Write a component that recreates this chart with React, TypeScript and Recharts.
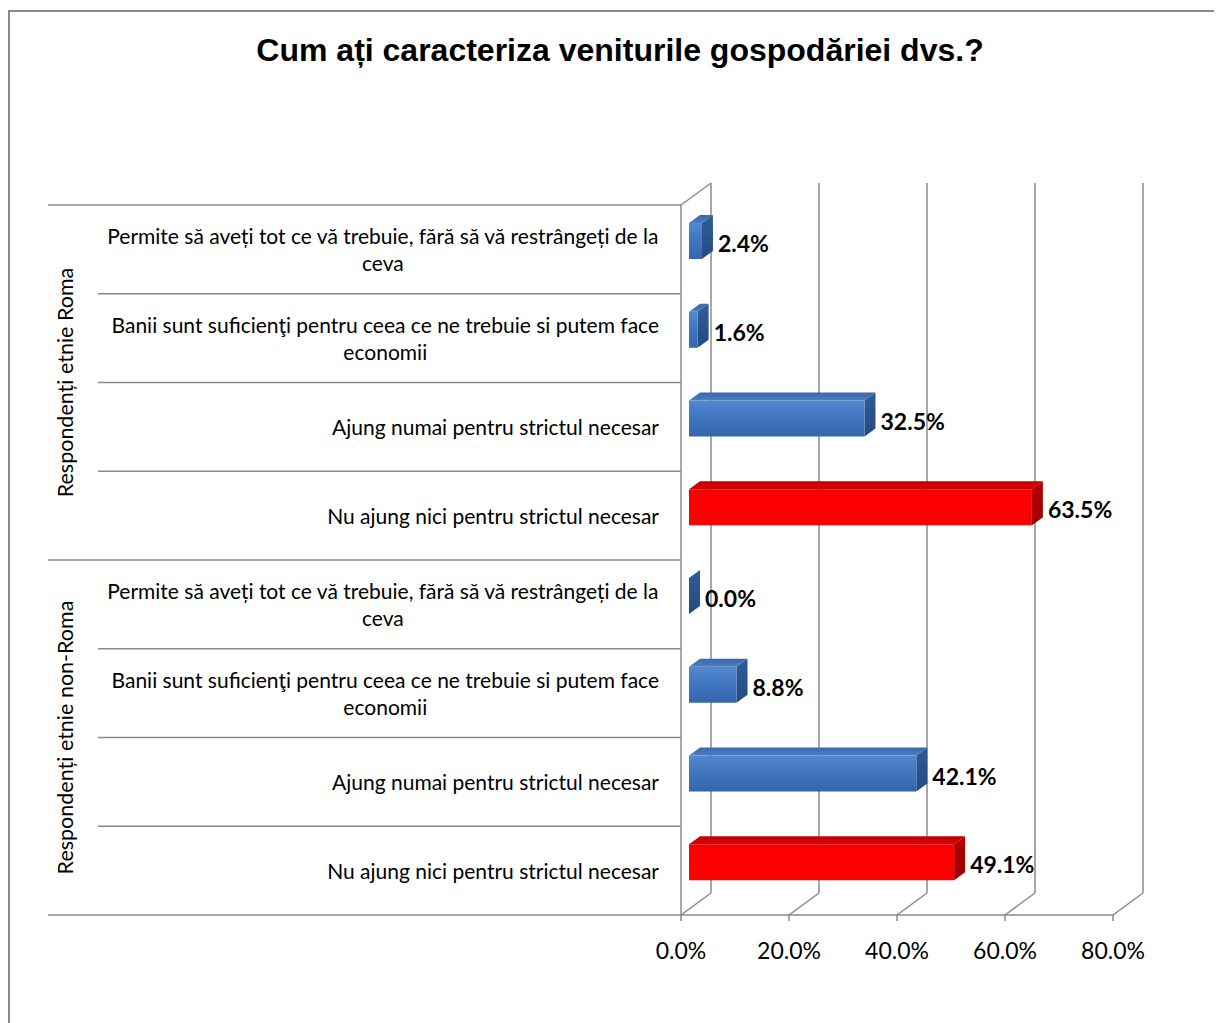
import React from "react";
import {
  BarChart,
  Bar,
  XAxis,
  YAxis,
  CartesianGrid,
  LabelList,
  Cell,
} from "recharts";

// answer options (top to bottom inside each group)
const categories = [
  "Permite să aveți tot ce vă trebuie, fără să vă restrângeți de la ceva",
  "Banii sunt suficienţi pentru ceea ce ne trebuie si putem face economii",
  "Ajung numai pentru strictul necesar",
  "Nu ajung nici pentru strictul necesar",
];
const groups = ["Respondenți etnie Roma", "Respondenți etnie non-Roma"];
const romaValues = [2.4, 1.6, 32.5, 63.5];
const nonRomaValues = [0.0, 8.8, 42.1, 49.1];
const xTicks = [0, 20, 40, 60, 80];

const data = [romaValues, nonRomaValues].flatMap((vals, g) =>
  vals.map((v, i) => ({
    key: `${g}-${i}`,
    label: categories[i],
    group: groups[g],
    value: v,
    red: i === 3,
  }))
);

// layout
const W = 1212;
const H = 1011;
const PLOT_LEFT = 671;
const PLOT_TOP = 193;
const PLOT_BOTTOM = 903;
const PLOT_RIGHT = 1103;
const BAND = (PLOT_BOTTOM - PLOT_TOP) / data.length;
const DEPTH_X = 30; // back wall offset
const DEPTH_Y = -22;
const BAR_X = 8; // bar front face offset from floor front
const BAR_Y = -8;
const BAR_DX = 11; // bar depth
const BAR_DY = -8;
const GRID = "#8a8a8a";
const FONT = "Lato, 'Open Sans', sans-serif";
const LABEL_SIZE = 21;

let ctx: CanvasRenderingContext2D | null = null;
const measure = (s: string, font: string) => {
  if (!ctx) ctx = document.createElement("canvas").getContext("2d");
  if (!ctx) return s.length * 9;
  ctx.font = font;
  return ctx.measureText(s).width;
};

const wrap = (text: string, maxW: number) => {
  const font = `${LABEL_SIZE}px Lato`;
  const words = text.split(" ");
  const lines: string[] = [];
  let cur = "";
  words.forEach((w) => {
    const t = cur ? cur + " " + w : w;
    if (measure(t, font) > maxW && cur) {
      lines.push(cur);
      cur = w;
    } else cur = t;
  });
  if (cur) lines.push(cur);
  return lines;
};

const CategoryTick = (props: any) => {
  const { y, payload, index } = props;
  const row = data[index] ?? data.find((d) => d.key === payload.value);
  const lines = wrap(row.label, 575);
  const font = `${LABEL_SIZE}px Lato`;
  const blockW = Math.max(...lines.map((l) => measure(l, font)));
  const cx = 649 - blockW / 2;
  const lh = 27;
  const first = y - ((lines.length - 1) * lh) / 2;
  const groupStart = index % 4 === 0;
  return (
    <g>
      <line
        x1={groupStart ? 38 : 88}
        x2={PLOT_LEFT}
        y1={y - BAND / 2}
        y2={y - BAND / 2}
        stroke={GRID}
        strokeWidth={1.5}
      />
      {index === data.length - 1 && (
        <line x1={38} x2={PLOT_LEFT} y1={y + BAND / 2} y2={y + BAND / 2} stroke={GRID} strokeWidth={1.5} />
      )}
      {lines.map((l, i) => (
        <text
          key={i}
          x={cx}
          y={first + i * lh}
          textAnchor="middle"
          dominantBaseline="central"
          fontFamily={FONT}
          fontSize={LABEL_SIZE}
          fill="#000"
        >
          {l}
        </text>
      ))}
      {groupStart && (
        <text
          x={55}
          y={y + 1.5 * BAND}
          transform={`rotate(-90, 55, ${y + 1.5 * BAND})`}
          textAnchor="middle"
          dominantBaseline="central"
          fontFamily={FONT}
          fontSize={21.5}
          fill="#000"
        >
          {row.group}
        </text>
      )}
    </g>
  );
};

const PercentTick = (props: any) => {
  const { x, payload } = props;
  return (
    <text
      x={x}
      y={PLOT_BOTTOM + 35}
      textAnchor="middle"
      dominantBaseline="central"
      fontFamily={FONT}
      fontSize={23}
      fill="#000"
    >
      {payload.value.toFixed(1)}%
    </text>
  );
};

const gridLine = (props: any) => {
  const { x1, y1, y2 } = props;
  const isLeft = Math.abs(x1 - PLOT_LEFT) < 1;
  return (
    <g key={props.key}>
      <line x1={x1 + DEPTH_X} x2={x1 + DEPTH_X} y1={y1 + DEPTH_Y} y2={y2 + DEPTH_Y} stroke={GRID} strokeWidth={1.5} />
      <line x1={x1} x2={x1 + DEPTH_X} y1={y2} y2={y2 + DEPTH_Y} stroke={GRID} strokeWidth={1.5} />
      {isLeft && (
        <line x1={x1} x2={x1 + DEPTH_X} y1={y1} y2={y1 + DEPTH_Y} stroke={GRID} strokeWidth={1.5} />
      )}
    </g>
  );
};

const Bar3D = (props: any) => {
  const { x, y, width, height, payload } = props;
  const fx = x + BAR_X;
  const fy = y + BAR_Y;
  const w = Math.max(0, width);
  const p = payload.red ? "red" : "blue";
  return (
    <g>
      <polygon
        points={`${fx},${fy} ${fx + BAR_DX},${fy + BAR_DY} ${fx + w + BAR_DX},${fy + BAR_DY} ${fx + w},${fy}`}
        fill={`url(#${p}Top)`}
      />
      <polygon
        points={`${fx + w},${fy} ${fx + w + BAR_DX},${fy + BAR_DY} ${fx + w + BAR_DX},${fy + height + BAR_DY} ${fx + w},${fy + height}`}
        fill={`url(#${p}Side)`}
      />
      {w > 0 && <rect x={fx} y={fy} width={w} height={height} fill={`url(#${p}Front)`} />}
    </g>
  );
};

const ValueLabel = (props: any) => {
  const { x, y, width, height, value } = props;
  return (
    <text
      x={x + width + BAR_X + BAR_DX + 5}
      y={y + height / 2 + BAR_Y + 2}
      dominantBaseline="central"
      fontFamily={FONT}
      fontWeight="bold"
      fontSize={23}
      fill="#000"
    >
      {Number(value).toFixed(1)}%
    </text>
  );
};

export default function App() {
  return (
    <div
      style={{
        position: "relative",
        marginTop: 2,
        width: W,
        height: H,
        borderLeft: `2px solid ${GRID}`,
        borderTop: `2px solid ${GRID}`,
        background: "#fff",
      }}
    >
      <div
        style={{
          position: "absolute",
          left: 0,
          top: 21,
          width: 1220,
          textAlign: "center",
          fontFamily: "'Liberation Sans', Arial, sans-serif",
          fontWeight: "bold",
          fontSize: 32,
          lineHeight: "34px",
          color: "#000",
        }}
      >
        Cum ați caracteriza veniturile gospodăriei dvs.?
      </div>
      <BarChart
        width={W}
        height={H}
        data={data}
        layout="vertical"
        margin={{ top: PLOT_TOP, right: W - PLOT_RIGHT, left: 0, bottom: H - PLOT_BOTTOM - 60 }}
        barSize={36}
      >
        <defs>
          <linearGradient id="blueFront" x1="0" y1="0" x2="0" y2="1">
            <stop offset="0%" stopColor="#5289d0" />
            <stop offset="50%" stopColor="#3f74be" />
            <stop offset="100%" stopColor="#3566ab" />
          </linearGradient>
          <linearGradient id="blueTop" x1="0" y1="0" x2="0" y2="1">
            <stop offset="0%" stopColor="#3a68a8" />
            <stop offset="100%" stopColor="#4a7ec4" />
          </linearGradient>
          <linearGradient id="blueSide" x1="0" y1="0" x2="0" y2="1">
            <stop offset="0%" stopColor="#2f5c98" />
            <stop offset="100%" stopColor="#254b80" />
          </linearGradient>
          <linearGradient id="redFront" x1="0" y1="0" x2="0" y2="1">
            <stop offset="0%" stopColor="#f20000" />
            <stop offset="25%" stopColor="#ff0000" />
            <stop offset="100%" stopColor="#fa0000" />
          </linearGradient>
          <linearGradient id="redTop" x1="0" y1="0" x2="0" y2="1">
            <stop offset="0%" stopColor="#c00000" />
            <stop offset="100%" stopColor="#d80000" />
          </linearGradient>
          <linearGradient id="redSide" x1="0" y1="0" x2="0" y2="1">
            <stop offset="0%" stopColor="#b80000" />
            <stop offset="100%" stopColor="#9c0000" />
          </linearGradient>
        </defs>
        <CartesianGrid horizontal={false} vertical={gridLine} />
        <XAxis
          type="number"
          domain={[0, 80]}
          ticks={xTicks}
          interval={0}
          axisLine={{ stroke: GRID, strokeWidth: 1.5 }}
          tickLine={{ stroke: GRID, strokeWidth: 1.5 }}
          tickSize={6}
          tick={PercentTick}
          height={60}
        />
        <YAxis
          type="category"
          dataKey="key"
          width={PLOT_LEFT}
          axisLine={{ stroke: GRID, strokeWidth: 1.5 }}
          tickLine={false}
          tick={CategoryTick}
          interval={0}
        />
        <Bar dataKey="value" shape={Bar3D} isAnimationActive={false}>
          {data.map((d) => (
            <Cell key={d.key} fill={d.red ? "#ff0000" : "#4f81bd"} />
          ))}
          <LabelList dataKey="value" content={ValueLabel} />
        </Bar>
      </BarChart>
    </div>
  );
}
